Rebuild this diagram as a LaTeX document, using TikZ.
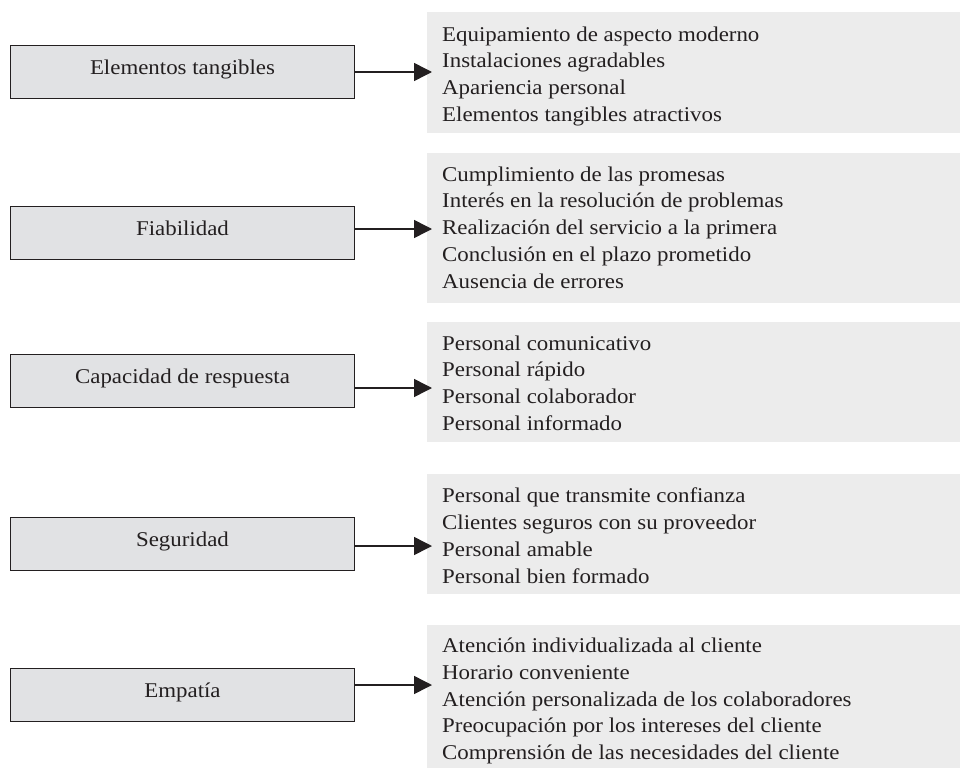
\documentclass[tikz,border=0pt]{standalone}
\usepackage{fontspec}
\setmainfont[FakeStretch=1.09]{Liberation Serif}
\usetikzlibrary{arrows.meta}
\definecolor{boxfill}{HTML}{E1E2E4}
\definecolor{panel}{HTML}{ECECEC}
\definecolor{ink}{HTML}{231F20}
\begin{document}
\begin{tikzpicture}[x=1pt,y=-1pt,
  dim/.style={draw=ink, line width=1.4pt, fill=boxfill, minimum width=343.6pt, minimum height=52.6pt, inner sep=0pt, text height=12pt, text depth=7pt, font=\fontsize{21}{25}\selectfont, text=ink},
  panelbox/.style={fill=panel, anchor=north west, minimum width=533pt, inner sep=0pt},
  items/.style={anchor=north west, inner sep=0pt, align=left, font=\fontsize{21}{26.7}\selectfont, text=ink},
  arr/.style={draw=ink, line width=1.5pt, -{Triangle[length=18pt,width=18pt]}}]
\useasboundingbox (0,0) rectangle (960,768);
\fill[white] (0,0) rectangle (960,768);

% panels
\node[panelbox, minimum height=121pt] (g1) at (427,12) {};
\node[panelbox, minimum height=150pt] (g2) at (427,153) {};
\node[panelbox, minimum height=120pt] (g3) at (427,322) {};
\node[panelbox, minimum height=120pt] (g4) at (427,474) {};
\node[panelbox, minimum height=143pt] (g5) at (427,625) {};

\node[items] (l1) at ([shift={(15,14.5)}]g1.north west) {Equipamiento de aspecto moderno\\Instalaciones agradables\\Apariencia personal\\Elementos tangibles atractivos};
\node[items] (l2) at ([shift={(15,13.5)}]g2.north west) {Cumplimiento de las promesas\\Interés en la resolución de problemas\\Realización del servicio a la primera\\Conclusión en el plazo prometido\\Ausencia de errores};
\node[items] (l3) at ([shift={(15,13.5)}]g3.north west) {Personal comunicativo\\Personal rápido\\Personal colaborador\\Personal informado};
\node[items] (l4) at ([shift={(15,14)}]g4.north west) {Personal que transmite confianza\\Clientes seguros con su proveedor\\Personal amable\\Personal bien formado};
\node[items] (l5) at ([shift={(15,13)}]g5.north west) {Atención individualizada al cliente\\Horario conveniente\\Atención personalizada de los colaboradores\\Preocupación por los intereses del cliente\\Comprensión de las necesidades del cliente};

% dimension boxes
\node[dim] (e1) at (182.5,72) {Elementos tangibles};
\node[dim] (e2) at (182.5,233) {Fiabilidad};
\node[dim] (e3) at (182.5,381) {Capacidad de respuesta};
\node[dim] (e4) at (182.5,544) {Seguridad};
\node[dim] (e5) at (182.5,695) {Empatía};

% arrow tips
\coordinate (t1) at (432,72);
\coordinate (t2) at (432,229);
\coordinate (t3) at (432,388);
\coordinate (t4) at (432,546);
\coordinate (t5) at (432,685);

\draw[arr] (e1.east |- t1) -- (t1);
\draw[arr] (e2.east |- t2) -- (t2);
\draw[arr] (e3.east |- t3) -- (t3);
\draw[arr] (e4.east |- t4) -- (t4);
\draw[arr] (e5.east |- t5) -- (t5);
\end{tikzpicture}
\end{document}
